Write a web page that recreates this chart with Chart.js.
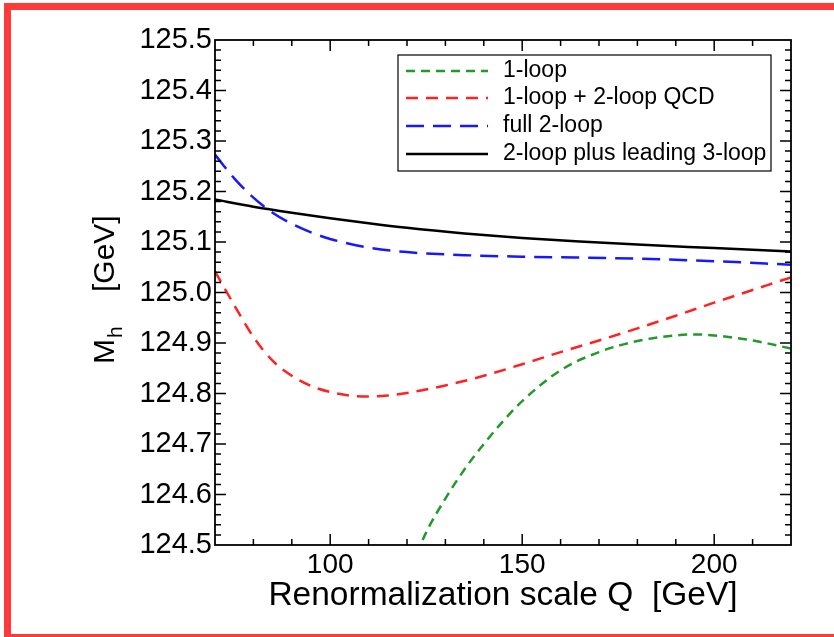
<!DOCTYPE html>
<html>
<head>
<meta charset="utf-8">
<script src="https://cdn.jsdelivr.net/npm/chart.js@4"></script>
<style>
  html, body { margin: 0; padding: 0; background: #fff; overflow: hidden; }
  #wrap { position: relative; width: 834px; height: 637px; overflow: hidden; }
  #frame { position: absolute; left: 4px; top: 3px; width: 900px; height: 624px; border: 7px solid #ff3a3a; pointer-events: none; }
  #chart { position: absolute; left: 0; top: 0; }
</style>
</head>
<body>
<div id="wrap">
  <canvas id="chart" width="834" height="637"></canvas>
  <div id="frame"></div>
</div>
<script>
// axis ticks
const xTicks = [100, 150, 200];
const yTicks = [124.5, 124.6, 124.7, 124.8, 124.9, 125.0, 125.1, 125.2, 125.3, 125.4, 125.5];

// 1-loop (green)
const q1 = [118, 125, 130, 135, 140, 145, 150, 160, 170, 180, 190, 195, 200, 210, 220];
const m1 = [124.40, 124.525, 124.592, 124.650, 124.700, 124.745, 124.785, 124.846, 124.882, 124.904, 124.915, 124.917, 124.915, 124.905, 124.889];

// 1-loop + 2-loop QCD (red)
const q2 = [70, 75, 80, 85, 90, 95, 100, 105, 110, 115, 120, 130, 140, 150, 160, 170, 180, 190, 200, 210, 220];
const m2 = [125.042, 124.975, 124.912, 124.865, 124.835, 124.815, 124.803, 124.796, 124.794, 124.796, 124.801, 124.816, 124.835, 124.858, 124.882, 124.905, 124.929, 124.954, 124.980, 125.005, 125.030];

// full 2-loop (blue)
const q3 = [70, 75, 80, 85, 90, 95, 100, 110, 120, 135, 150, 180, 200, 220];
const m3 = [125.273, 125.226, 125.188, 125.158, 125.136, 125.119, 125.106, 125.089, 125.080, 125.074, 125.071, 125.067, 125.062, 125.055];

// 2-loop plus leading 3-loop (black)
const q4 = [70, 80, 90, 100, 110, 120, 135, 150, 165, 180, 200, 220];
const m4 = [125.184, 125.170, 125.158, 125.147, 125.137, 125.128, 125.117, 125.108, 125.101, 125.095, 125.088, 125.081];

const FONT = "'Liberation Sans', Arial, Helvetica, sans-serif";

function pts(qs, ms) {
    return qs.map((q, i) => ({ x: q, y: ms[i] }));
}

// frame around the plot plus inward ticks on all four sides
const frameTicks = {
    id: 'frameTicks',
    afterDatasetsDraw(chart) {
        const { ctx, chartArea: a, scales: { x, y } } = chart;
        ctx.save();
        ctx.strokeStyle = '#000';
        ctx.lineWidth = 1.5;
        ctx.beginPath();
        for (let v = 80; v <= 210; v += 10) {
            const px = x.getPixelForValue(v);
            const len = xTicks.includes(v) ? 11 : 6;
            ctx.moveTo(px, a.bottom); ctx.lineTo(px, a.bottom - len);
            ctx.moveTo(px, a.top); ctx.lineTo(px, a.top + len);
        }
        for (let i = 1; i < 50; i++) {
            const py = y.getPixelForValue(124.5 + i * 0.02);
            const len = i % 5 === 0 ? 11 : 6;
            ctx.moveTo(a.left, py); ctx.lineTo(a.left + len, py);
            ctx.moveTo(a.right, py); ctx.lineTo(a.right - len, py);
        }
        ctx.stroke();
        ctx.lineWidth = 1.8;
        ctx.strokeRect(a.left, a.top, a.right - a.left, a.bottom - a.top);
        ctx.restore();
    }
};

// legend box in the upper right + y axis title with subscript
const legendBox = {
    id: 'legendBox',
    afterDraw(chart) {
        const ctx = chart.ctx;
        ctx.save();
        ctx.fillStyle = '#fff';
        ctx.fillRect(398, 55, 373, 116);
        ctx.strokeStyle = '#000';
        ctx.lineWidth = 1.2;
        ctx.strokeRect(398, 55, 373, 116);
        const rows = [71, 98, 126, 154];
        chart.data.datasets.forEach((ds, i) => {
            const yy = rows[i];
            ctx.strokeStyle = ds.borderColor;
            ctx.lineWidth = ds.borderWidth;
            ctx.setLineDash(ds.borderDash || []);
            ctx.beginPath();
            ctx.moveTo(406, yy);
            ctx.lineTo(488, yy);
            ctx.stroke();
            ctx.setLineDash([]);
            ctx.fillStyle = '#000';
            ctx.font = '23px ' + FONT;
            ctx.textBaseline = 'middle';
            ctx.fillText(ds.label, 503, yy);
        });

        // y title: M_h   [GeV]
        ctx.translate(114, 364);
        ctx.rotate(-Math.PI / 2);
        ctx.fillStyle = '#000';
        ctx.textBaseline = 'alphabetic';
        ctx.font = '30px ' + FONT;
        ctx.fillText('M', 0, 0);
        const w = ctx.measureText('M').width;
        ctx.font = '21px ' + FONT;
        ctx.fillText('h', w + 1, 8);
        ctx.font = '30px ' + FONT;
        ctx.fillText('[GeV]', 72, 0);
        ctx.restore();
    }
};

new Chart(document.getElementById('chart'), {
    type: 'line',
    data: {
        datasets: [
            {
                label: '1-loop',
                data: pts(q1, m1),
                borderColor: '#22992a',
                borderWidth: 2.5,
                borderDash: [9, 6],
            },
            {
                label: '1-loop + 2-loop QCD',
                data: pts(q2, m2),
                borderColor: '#ff2222',
                borderWidth: 2.5,
                borderDash: [12, 8],
            },
            {
                label: 'full 2-loop',
                data: pts(q3, m3),
                borderColor: '#1818ff',
                borderWidth: 2.5,
                borderDash: [18, 9],
            },
            {
                label: '2-loop plus leading 3-loop',
                data: pts(q4, m4),
                borderColor: '#000000',
                borderWidth: 2.5,
            }
        ]
    },
    options: {
        responsive: false,
        animation: false,
        devicePixelRatio: 1,
        layout: { padding: { top: 40, right: 43, left: 0, bottom: 0 } },
        elements: {
            point: { radius: 0 },
            line: { cubicInterpolationMode: 'monotone', fill: false }
        },
        plugins: {
            legend: { display: false },
            tooltip: { enabled: false }
        },
        scales: {
            x: {
                type: 'linear',
                min: 70,
                max: 220,
                grid: { display: false, drawTicks: false },
                border: { display: false },
                ticks: {
                    color: '#000',
                    font: { family: FONT, size: 28 },
                    padding: 3,
                    maxRotation: 0
                },
                title: {
                    display: true,
                    text: 'Renormalization scale Q  [GeV]',
                    color: '#000',
                    font: { family: FONT, size: 33.5 },
                    padding: { top: 0, bottom: 21 }
                },
                afterBuildTicks: s => { s.ticks = xTicks.map(v => ({ value: v })); },
                afterFit: s => { s.height = 92; }
            },
            y: {
                type: 'linear',
                min: 124.5,
                max: 125.5,
                grid: { display: false, drawTicks: false },
                border: { display: false },
                ticks: {
                    color: '#000',
                    font: { family: FONT, size: 29 },
                    padding: 3,
                    callback: v => v.toFixed(1)
                },
                afterBuildTicks: s => { s.ticks = yTicks.map(v => ({ value: v })); },
                afterFit: s => { s.width = 215; }
            }
        }
    },
    plugins: [frameTicks, legendBox]
});
</script>
</body>
</html>
